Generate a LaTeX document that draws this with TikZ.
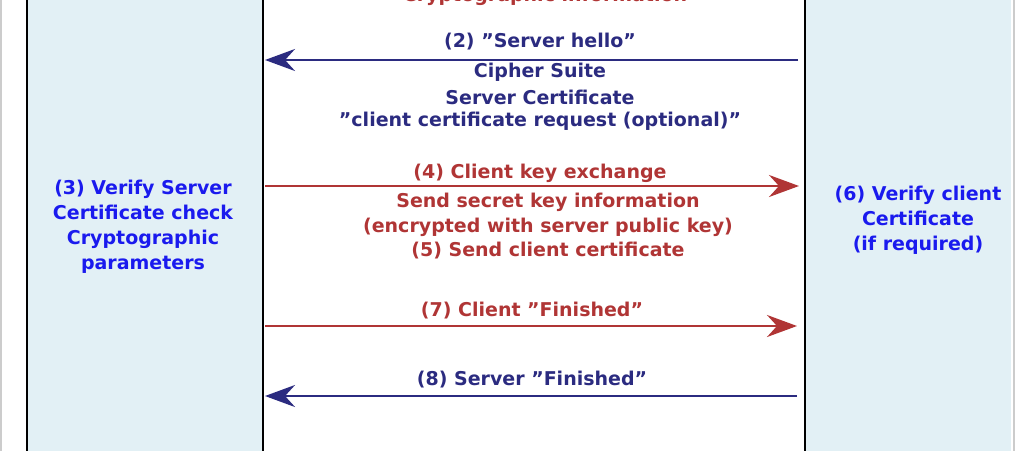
\documentclass[tikz,border=0pt]{standalone}
\usepackage{fontspec}
\defaultfontfeatures{}
\setmainfont{DejaVu Sans}
\usetikzlibrary{arrows.meta}
\definecolor{navy}{HTML}{2B2B80}
\definecolor{dred}{HTML}{B03535}
\definecolor{lblue}{HTML}{1A1AEE}
\definecolor{panel}{HTML}{E2F0F5}
\newcommand{\qq}{\char34\relax}
\begin{document}
\begin{tikzpicture}[x=1pt,y=-1pt,
  t/.style={font=\bfseries\fontsize{19}{22}\selectfont,inner sep=0pt,anchor=center},
  bt/.style={t,text=navy}, rt/.style={t,text=dred},
  pl/.style={t,text=lblue,align=center,font=\bfseries\fontsize{19}{25}\selectfont},
  arr/.style={line width=2.5pt,-{Stealth[length=30pt,width=22pt,inset=10pt]}}]
\useasboundingbox (0,0) rectangle (1024,450);
\fill[white] (0,0) rectangle (1024,450);
\draw[gray!40,line width=2pt] (1,-2) -- (1,452);
\draw[gray!40,line width=2pt] (1014,-2) -- (1014,452);
\fill[panel] (27,-2) rectangle (262,452);
\fill[panel] (805,-2) rectangle (1011,452);
\draw[black,line width=2pt] (27,-2) -- (27,452);
\draw[black,line width=2pt] (262.5,-2) -- (262.5,452);
\draw[black,line width=2pt] (805,-2) -- (805,452);
\node[rt] (top) at (545,-4) {Cryptographic information};
\coordinate (cL1) at (265,60); \coordinate (cR1) at (798,60);
\coordinate (cL2) at (265,186); \coordinate (cR2) at (799,186);
\coordinate (cL3) at (265,326); \coordinate (cR3) at (797,326);
\coordinate (cL4) at (265,396); \coordinate (cR4) at (797,396);
\draw[arr,navy] (cR1) -- (cL1);
\draw[arr,dred] (cL2) -- (cR2);
\draw[arr,dred] (cL3) -- (cR3);
\draw[arr,navy] (cR4) -- (cL4);
\node[bt] (m2) at (540,42) {(2) \qq Server hello\qq};
\node[bt] (m2a) at (540,72) {Cipher Suite};
\node[bt] (m2b) at (540,97) {Server Certificate};
\node[bt] (m2c) at (540,121) {\qq client certificate request (optional)\qq};
\node[rt] (m4) at (540,173) {(4) Client key exchange};
\node[rt] (m4a) at (548,202) {Send secret key information};
\node[rt] (m4b) at (548,227) {(encrypted with server public key)};
\node[rt] (m5) at (548,251) {(5) Send client certificate};
\node[rt] (m7) at (532,311) {(7) Client \qq Finished\qq};
\node[bt] (m8) at (532,380) {(8) Server \qq Finished\qq};
\node[pl] (l3) at (143,227) {(3) Verify Server\\Certificate check\\Cryptographic\\parameters};
\node[pl] (r6) at (918,220) {(6) Verify client\\Certificate\\(if required)};
\end{tikzpicture}
\end{document}
